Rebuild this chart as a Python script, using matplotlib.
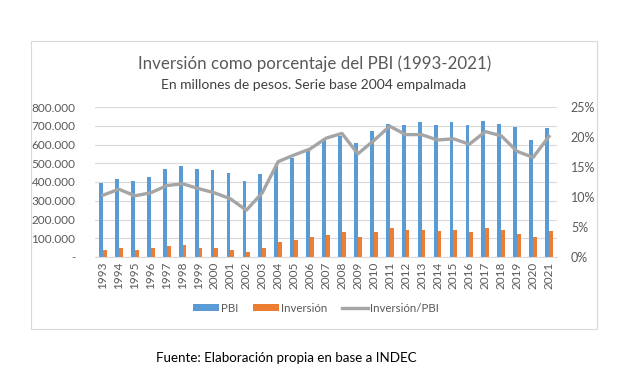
import matplotlib
matplotlib.use('Agg')
import matplotlib.pyplot as plt
import matplotlib.patches as patches
from matplotlib.ticker import FuncFormatter, MultipleLocator
import numpy as np

plt.rcParams['font.family'] = ['Lato', 'DejaVu Sans']

years = [str(y) for y in range(1993, 2022)]
pbi = [393000, 414000, 404000, 425000, 468000, 484000, 468000, 463000, 446000, 404000,
       441000, 485000, 528000, 570000, 622000, 647000, 608000, 671000, 710000, 704000,
       720000, 702000, 721000, 706000, 726000, 707000, 692000, 622000, 688000]
inversion = [39000, 46000, 39000, 46000, 57000, 64000, 50000, 50000, 39000, 29000,
             50000, 79000, 91000, 105000, 120000, 132000, 105000, 132000, 154000, 143000,
             146000, 137000, 143000, 132000, 154000, 143000, 123000, 105000, 137000]
ratio = [10.3, 11.3, 10.2, 10.7, 11.9, 12.2, 11.4, 10.7, 9.7, 7.8,
         10.7, 15.9, 17.0, 18.0, 19.8, 20.6, 17.2, 19.4, 21.8, 20.4,
         20.4, 19.5, 19.7, 18.8, 20.9, 20.2, 17.6, 16.6, 20.1]

W, H = 634, 376
fig = plt.figure(figsize=(W / 100, H / 100), dpi=100)

# chart border like the Excel chart area
fig.patches.append(patches.Rectangle((31 / W, 1 - 329 / H), 566 / W, 288 / H,
                                     transform=fig.transFigure, fill=False,
                                     edgecolor='#D9D9D9', linewidth=0.8))

ax = fig.add_axes([95 / W, 1 - 257 / H, 462 / W, 150 / H])
x = np.arange(len(years))
bw = 0.24
ax.bar(x - bw / 2, pbi, bw, color='#5B9BD5', label='PBI', zorder=2)
ax.bar(x + bw / 2, inversion, bw, color='#ED7D31', label='Inversión', zorder=2)
ax.set_ylim(0, 800000)
ax.set_xlim(-0.5, len(years) - 0.5)
ax.yaxis.set_major_locator(MultipleLocator(100000))
ax.yaxis.set_major_formatter(FuncFormatter(
    lambda v, p: '-' if v == 0 else f'{int(v):,}'.replace(',', '.')))
ax.grid(axis='y', color='#D9D9D9', linewidth=0.8, zorder=0)
ax.set_xticks(x)
ax.set_xticklabels(years, rotation=90)
for s in ['top', 'right', 'left']:
    ax.spines[s].set_visible(False)
ax.spines['bottom'].set_color('#D9D9D9')
ax.tick_params(length=0, labelsize=8.5, colors='#595959')
ax.tick_params(axis='y', pad=14)

ax2 = ax.twinx()
ax2.plot(x, ratio, color='#A5A5A5', linewidth=2.4, label='Inversión/PBI', zorder=3)
ax2.set_ylim(0, 25)
ax2.yaxis.set_major_locator(MultipleLocator(5))
ax2.yaxis.set_major_formatter(FuncFormatter(lambda v, p: f'{int(v)}%'))
for s in ax2.spines.values():
    s.set_visible(False)
ax2.tick_params(length=0, labelsize=9, colors='#595959', pad=10)

fig.text(315 / W, 1 - 64 / H, 'Inversión como porcentaje del PBI (1993-2021)',
         ha='center', va='center', fontsize=12.2, color='#595959')
fig.text(314 / W, 1 - 85 / H, 'En millones de pesos. Serie base 2004 empalmada',
         ha='center', va='center', fontsize=10, color='#404040')

h1, l1 = ax.get_legend_handles_labels()
h2, l2 = ax2.get_legend_handles_labels()
fig.legend(h1 + h2, l1 + l2, loc='center', bbox_to_anchor=(316 / W, 1 - 308 / H),
           ncol=3, frameon=False, fontsize=8.3, labelcolor='#595959',
           handlelength=2.2, handleheight=0.6, handletextpad=0.2, columnspacing=1.3)

fig.text(286 / W, 1 - 358 / H, 'Fuente: Elaboración propia en base a INDEC',
         ha='center', va='center', fontsize=9.6, color='#000000')

plt.savefig('out.png', dpi=100)
